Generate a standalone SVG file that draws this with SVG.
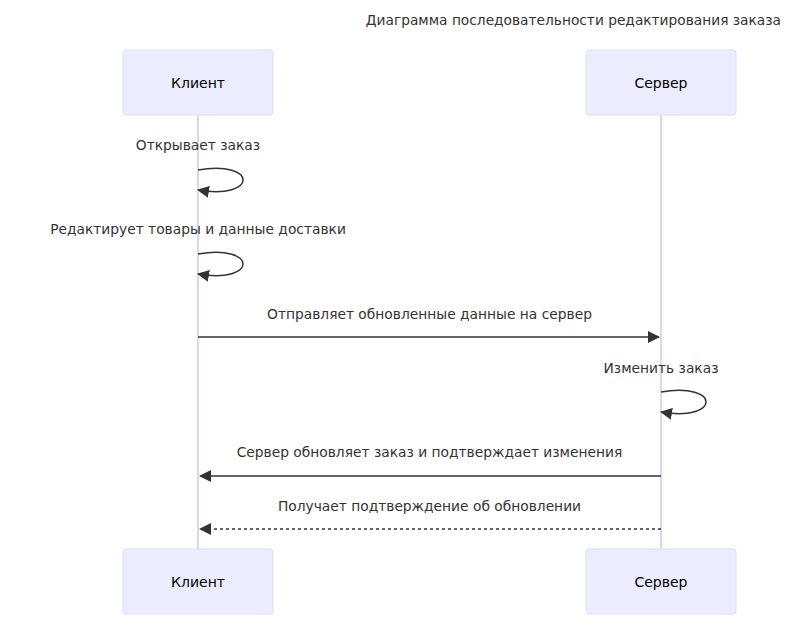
<svg xmlns="http://www.w3.org/2000/svg" width="787" height="626" viewBox="0 0 787 626">
<defs>
<style>
.actor{fill:#ECECFF;stroke:#e0dbf7;stroke-width:1}
.life{stroke:#ded4f7;stroke-width:2}
.t{font-family:"DejaVu Sans",sans-serif;font-size:13.8px;fill:#333;text-anchor:middle}
.at{font-family:"DejaVu Sans",sans-serif;font-size:14px;fill:#000;text-anchor:middle;dominant-baseline:central}
.msg{stroke:#333;stroke-width:1.5;fill:none}
.dash{stroke-dasharray:3,3}
</style>
<marker id="arrow" viewBox="0 0 12 12" refX="11" refY="6" markerWidth="12" markerHeight="12" markerUnits="userSpaceOnUse" orient="auto">
<path d="M0,0 L12,6 L0,12 z" fill="#333"/>
</marker>
</defs>
<rect width="787" height="626" fill="#fff"/>
<text x="781" y="25" style="font-family:'DejaVu Sans',sans-serif;font-size:13.75px;fill:#333;text-anchor:end">Диаграмма последовательности редактирования заказа</text>
<g id="lifelines">
<line class="life" x1="198" y1="115" x2="198" y2="549"/>
<line class="life" x1="661" y1="115" x2="661" y2="549"/>
</g>
<g id="client-top"><rect class="actor" x="123" y="50" width="150" height="65" rx="3"/><text class="at" x="198" y="83">Клиент</text></g>
<g id="server-top"><rect class="actor" x="586" y="50" width="150" height="65" rx="3"/><text class="at" x="661" y="83">Сервер</text></g>
<g id="client-bottom"><rect class="actor" x="123" y="549" width="150" height="65" rx="3"/><text class="at" x="198" y="582">Клиент</text></g>
<g id="server-bottom"><rect class="actor" x="586" y="549" width="150" height="65" rx="3"/><text class="at" x="661" y="582">Сервер</text></g>
<g id="connectors">
<text class="t" x="198" y="150">Открывает заказ</text>
<path class="msg" marker-end="url(#arrow)" d="M198,170 C258,160 258,200 198,190"/>
<text class="t" x="198" y="234">Редактирует товары и данные доставки</text>
<path class="msg" marker-end="url(#arrow)" d="M198,254 C258,244 258,284 198,274"/>
<text class="t" x="429.5" y="319">Отправляет обновленные данные на сервер</text>
<line class="msg" marker-end="url(#arrow)" x1="198" y1="337" x2="659" y2="337"/>
<text class="t" x="661" y="373">Изменить заказ</text>
<path class="msg" marker-end="url(#arrow)" d="M661,392 C721,382 721,422 661,412"/>
<text class="t" x="429.5" y="457">Сервер обновляет заказ и подтверждает изменения</text>
<line class="msg" marker-end="url(#arrow)" x1="661" y1="476" x2="200" y2="476"/>
<text class="t" x="429.5" y="511">Получает подтверждение об обновлении</text>
<line class="msg dash" marker-end="url(#arrow)" x1="661" y1="529" x2="200" y2="529"/>
</g>
</svg>
